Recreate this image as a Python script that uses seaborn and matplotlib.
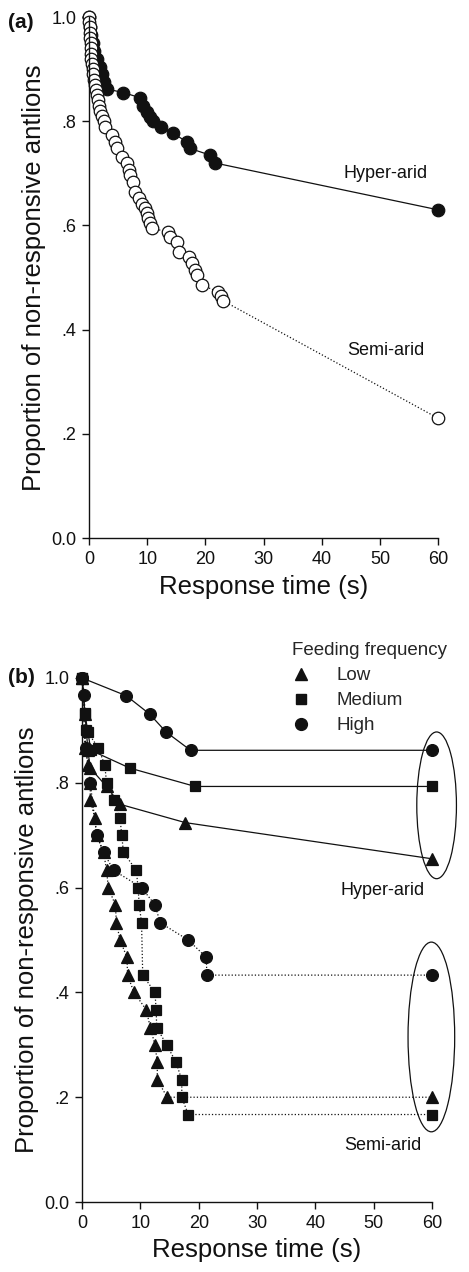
import numpy as np
import pandas as pd
import matplotlib
matplotlib.use("Agg")
import matplotlib.pyplot as plt
from matplotlib.lines import Line2D
from matplotlib.patches import Ellipse
import seaborn as sns

# ---------------- Panel (a) data ----------------
hyper_a_x = [0, 0.2, 0.4, 0.6, 0.9, 1.3, 1.8, 2.2, 2.6, 3.0, 5.9, 8.8, 9.3, 10.0, 10.5, 10.9,
             12.3, 14.5, 16.8, 17.3, 20.8, 21.6, 60]
hyper_a_y = [1.0, 0.98, 0.965, 0.95, 0.935, 0.92, 0.905, 0.89, 0.875, 0.862, 0.855, 0.845, 0.83,
             0.818, 0.808, 0.80, 0.788, 0.777, 0.76, 0.748, 0.735, 0.72, 0.63]

semi_a_x = [0, 0.05, 0.1, 0.15, 0.2, 0.25, 0.3, 0.35, 0.4, 0.5, 0.6, 0.7, 0.8, 1.0, 1.1, 1.3,
            1.5, 1.7, 1.9, 2.2, 2.5, 2.75, 3.9, 4.5, 4.8, 5.6, 6.5, 6.8, 7.0, 7.6, 7.9, 8.5,
            9.1, 9.6, 9.9, 10.2, 10.5, 10.8, 13.6, 13.9, 15.1, 15.4, 17.1, 17.7, 18.2, 18.5,
            19.4, 22.2, 22.6, 23.1, 60]
semi_a_y = [1.0, 0.99, 0.98, 0.97, 0.96, 0.95, 0.94, 0.93, 0.92, 0.91, 0.90, 0.89, 0.88, 0.87,
            0.86, 0.85, 0.84, 0.83, 0.82, 0.81, 0.80, 0.789, 0.773, 0.76, 0.748, 0.732, 0.72,
            0.706, 0.697, 0.684, 0.665, 0.652, 0.642, 0.633, 0.624, 0.614, 0.604, 0.595,
            0.587, 0.578, 0.568, 0.549, 0.539, 0.527, 0.514, 0.505, 0.486, 0.472, 0.465,
            0.455, 0.23]

# ---------------- Panel (b) data ----------------
# Hyper-arid (solid lines)
hyp_low_x = [0, 0.5, 1.0, 1.4, 4.2, 6.5, 17.7, 60]
hyp_low_y = [1.0, 0.931, 0.862, 0.828, 0.793, 0.759, 0.724, 0.655]
hyp_med_x = [0, 0.5, 1.0, 1.5, 8.2, 19.4, 60]
hyp_med_y = [1.0, 0.931, 0.897, 0.862, 0.828, 0.793, 0.793]
hyp_high_x = [0, 7.6, 11.6, 14.4, 18.6, 60]
hyp_high_y = [1.0, 0.966, 0.931, 0.897, 0.862, 0.862]

# Semi-arid (dotted lines)
semi_low_x = [0, 0.5, 1.1, 1.4, 1.4, 2.2, 2.5, 3.7, 4.2, 4.5, 5.7, 5.9, 6.5, 7.7, 7.8, 8.9,
              11.0, 11.7, 12.5, 12.9, 12.9, 14.6, 60]
semi_low_y = [1.0, 0.867, 0.833, 0.8, 0.767, 0.733, 0.7, 0.667, 0.633, 0.6, 0.567, 0.533,
              0.5, 0.467, 0.433, 0.4, 0.367, 0.333, 0.3, 0.267, 0.233, 0.2, 0.2]
semi_med_x = [0, 0.5, 0.7, 2.8, 3.9, 4.2, 5.4, 6.5, 6.8, 7.1, 9.3, 9.6, 9.8, 10.2, 10.4,
              12.5, 12.7, 12.8, 14.5, 16.1, 17.1, 17.1, 18.2, 60]
semi_med_y = [1.0, 0.933, 0.9, 0.867, 0.833, 0.8, 0.767, 0.733, 0.7, 0.667, 0.633, 0.6,
              0.567, 0.533, 0.433, 0.4, 0.367, 0.333, 0.3, 0.267, 0.233, 0.2, 0.167, 0.167]
semi_high_x = [0, 0.4, 0.6, 1.4, 2.5, 3.7, 5.4, 10.2, 12.5, 13.4, 18.2, 21.3, 21.4, 60]
semi_high_y = [1.0, 0.967, 0.867, 0.8, 0.7, 0.667, 0.633, 0.6, 0.567, 0.533, 0.5, 0.467,
               0.433, 0.433]

y_ticks = [0.0, 0.2, 0.4, 0.6, 0.8, 1.0]
y_ticklabels = ["0.0", ".2", ".4", ".6", ".8", "1.0"]
x_ticks = [0, 10, 20, 30, 40, 50, 60]

sns.set_theme(style="ticks")
plt.rcParams['font.family'] = ['Liberation Sans', 'DejaVu Sans']

INK = "#111111"
TICK_FS = 13
LABEL_FS = 18.5
fig = plt.figure(figsize=(4.69, 12.72), dpi=100)
ax_a = fig.add_axes([0.19, 0.577, 0.744, 0.4096])
ax_b = fig.add_axes([0.175, 0.055, 0.746, 0.412])


def style_axis(ax):
    ax.set_xlim(0, 60)
    ax.set_ylim(0, 1.0)
    ax.set_xticks(x_ticks)
    ax.set_yticks(y_ticks)
    ax.set_yticklabels(y_ticklabels)
    sns.despine(ax=ax)
    for s in ("left", "bottom"):
        ax.spines[s].set_color(INK)
        ax.spines[s].set_linewidth(1.0)
    ax.tick_params(direction="out", length=5, width=1.0, colors=INK, labelsize=TICK_FS, pad=4)
    ax.set_xlabel("Response time (s)", fontsize=LABEL_FS, color=INK, labelpad=5)
    ax.set_ylabel("Proportion of non-responsive antlions", fontsize=LABEL_FS, color=INK,
                  labelpad=4)
    ax.set_facecolor("white")


def series(ax, xs, ys, marker, ls, mfc, ms):
    df = pd.DataFrame({"x": xs, "y": ys})
    sns.lineplot(data=df, x="x", y="y", ax=ax, estimator=None, sort=False,
                 color=INK, linewidth=0.9, linestyle=ls, marker=marker,
                 markersize=ms, markerfacecolor=mfc, markeredgecolor=INK,
                 markeredgewidth=0.9, clip_on=False)


# Panel (a)
series(ax_a, hyper_a_x, hyper_a_y, "o", "-", INK, 9)
series(ax_a, semi_a_x, semi_a_y, "o", ":", "white", 9)
style_axis(ax_a)
ax_a.text(51, 0.70, "Hyper-arid", ha="center", va="center", fontsize=TICK_FS, color=INK)
ax_a.text(51, 0.36, "Semi-arid", ha="center", va="center", fontsize=TICK_FS, color=INK)

# Panel (b)
series(ax_b, semi_low_x, semi_low_y, "^", ":", INK, 8.5)
series(ax_b, semi_med_x, semi_med_y, "s", ":", INK, 7.5)
series(ax_b, semi_high_x, semi_high_y, "o", ":", INK, 8.5)
series(ax_b, hyp_low_x, hyp_low_y, "^", "-", INK, 8.5)
series(ax_b, hyp_med_x, hyp_med_y, "s", "-", INK, 7.5)
series(ax_b, hyp_high_x, hyp_high_y, "o", "-", INK, 8.5)
style_axis(ax_b)

ax_b.add_patch(Ellipse((60.8, 0.757), 6.8, 0.28, fill=False, edgecolor=INK,
                       linewidth=0.9, clip_on=False))
ax_b.add_patch(Ellipse((59.9, 0.315), 8.0, 0.362, fill=False, edgecolor=INK,
                       linewidth=0.9, clip_on=False))
ax_b.text(51.5, 0.595, "Hyper-arid", ha="center", va="center", fontsize=TICK_FS, color=INK)
ax_b.text(51.5, 0.108, "Semi-arid", ha="center", va="center", fontsize=TICK_FS, color=INK)

handles = [
    Line2D([], [], linestyle="none", marker="^", markersize=8.5, color=INK, label="Low"),
    Line2D([], [], linestyle="none", marker="s", markersize=7.5, color=INK, label="Medium"),
    Line2D([], [], linestyle="none", marker="o", markersize=8.5, color=INK, label="High"),
]
leg = ax_b.legend(handles=handles, title="Feeding frequency", loc="upper left",
                  bbox_to_anchor=(0.6, 1.068), frameon=False, fontsize=13.5,
                  title_fontsize=13.5, handlelength=1.0, handletextpad=1.35,
                  labelspacing=0.42, borderpad=0.0, borderaxespad=0.0, alignment="left")

fig.text(0.017, 0.982, "(a)", fontsize=15, fontweight="bold", color=INK, va="center")
fig.text(0.017, 0.467, "(b)", fontsize=15, fontweight="bold", color=INK, va="center")

fig.savefig("out.png", dpi=100, facecolor="white")
